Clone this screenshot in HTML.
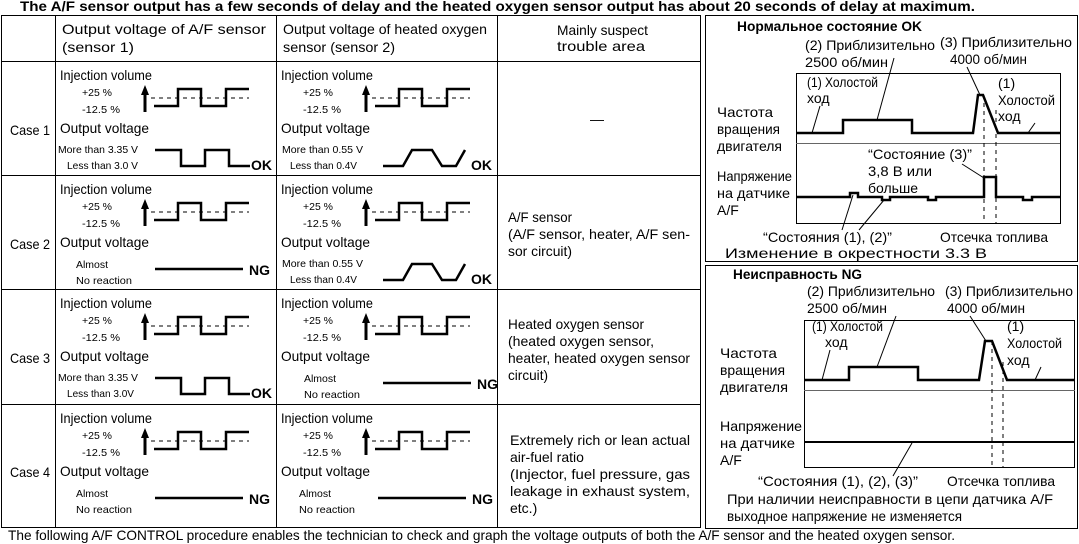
<!DOCTYPE html>
<html><head><meta charset="utf-8"><style>
html,body{margin:0;padding:0;background:#fff;}
svg{display:block;font-family:"Liberation Sans",Arial,sans-serif;}
text{font-size:14px;}
.s{font-size:10.5px;}
.b{font-weight:bold;}
.w{fill:none;stroke:#000;stroke-width:2.5;}
.d{fill:none;stroke:#000;stroke-width:1;stroke-dasharray:4,4;}
.t{fill:none;stroke:#000;stroke-width:1;}
</style></head><body>
<svg width="1079" height="544" viewBox="0 0 1079 544" xmlns="http://www.w3.org/2000/svg">
<defs>
<g id="inj">
<text x="60" y="80" textLength="92" lengthAdjust="spacingAndGlyphs">Injection volume</text>
<text x="82" y="96" class="s" textLength="30" lengthAdjust="spacingAndGlyphs">+25 %</text>
<text x="82" y="113" class="s" textLength="38" lengthAdjust="spacingAndGlyphs">-12.5  %</text>
<line x1="145" y1="92" x2="145" y2="112" stroke="#000" stroke-width="3"/>
<polygon points="141,95 149,95 145,85" fill="#000"/>
<line x1="151" y1="98" x2="249" y2="98" class="d"/>
<polyline points="154,106 178,106 178,89 201,89 201,106 226,106 226,89 249,89" class="w"/>
<text x="60" y="133" textLength="89" lengthAdjust="spacingAndGlyphs">Output voltage</text>
</g>
<g id="ng1">
<text x="76" y="154" class="s" textLength="32" lengthAdjust="spacingAndGlyphs">Almost</text>
<text x="76" y="170" class="s" textLength="56" lengthAdjust="spacingAndGlyphs">No reaction</text>
<line x1="155" y1="155" x2="243" y2="155" stroke="#000" stroke-width="2.5"/>
<text x="249" y="161" class="b">NG</text>
</g>
</defs>
<text x="20" y="11" class="b" textLength="955" lengthAdjust="spacingAndGlyphs">The A/F sensor output has a few seconds of delay and the heated oxygen sensor output has about  20 seconds of delay at maximum.</text>
<rect x="1.5" y="15.5" width="699" height="512" class="t"/>
<line x1="55.5" y1="15" x2="55.5" y2="528" class="t"/>
<line x1="276.5" y1="15" x2="276.5" y2="528" class="t"/>
<line x1="497.5" y1="15" x2="497.5" y2="528" class="t"/>
<line x1="1" y1="61.5" x2="701" y2="61.5" class="t"/>
<line x1="1" y1="175.5" x2="701" y2="175.5" class="t"/>
<line x1="1" y1="289.5" x2="701" y2="289.5" class="t"/>
<line x1="1" y1="404.5" x2="701" y2="404.5" class="t"/>
<text x="62" y="34" textLength="204" lengthAdjust="spacingAndGlyphs">Output voltage of A/F sensor</text>
<text x="62" y="52" textLength="72" lengthAdjust="spacingAndGlyphs">(sensor 1)</text>
<text x="283" y="34" textLength="204" lengthAdjust="spacingAndGlyphs">Output voltage of heated oxygen</text>
<text x="283" y="52" textLength="112" lengthAdjust="spacingAndGlyphs">sensor (sensor 2)</text>
<text x="557" y="35" textLength="91" lengthAdjust="spacingAndGlyphs">Mainly suspect</text>
<text x="557" y="51" textLength="88" lengthAdjust="spacingAndGlyphs">trouble area</text>
<text x="10" y="135" textLength="40" lengthAdjust="spacingAndGlyphs">Case 1</text>
<text x="10" y="249" textLength="40" lengthAdjust="spacingAndGlyphs">Case 2</text>
<text x="10" y="363" textLength="40" lengthAdjust="spacingAndGlyphs">Case 3</text>
<text x="10" y="477" textLength="40" lengthAdjust="spacingAndGlyphs">Case 4</text>
<g><use href="#inj"/><use href="#inj" transform="translate(221,0)"/>
<text x="58" y="153" class="s" textLength="80" lengthAdjust="spacingAndGlyphs">More than 3.35 V</text><text x="67" y="169" class="s" textLength="71" lengthAdjust="spacingAndGlyphs">Less than 3.0 V</text>
<polyline points="155,150 181,150 181,166 205,166 205,150 229,150 229,166 250,166" class="w"/>
<text x="251" y="170" class="b">OK</text>
<text x="282" y="153" class="s" textLength="81" lengthAdjust="spacingAndGlyphs">More than 0.55 V</text><text x="290" y="169" class="s" textLength="67" lengthAdjust="spacingAndGlyphs">Less than 0.4V</text>
<polyline points="383,166 403,166 412,150 432,150 442,166 456,166 465,150" class="w"/>
<text x="471" y="170" class="b">OK</text>
<text x="597" y="124" text-anchor="middle">—</text>
</g>
<g transform="translate(0,114)"><use href="#inj"/><use href="#inj" transform="translate(221,0)"/>
<use href="#ng1"/>
<text x="282" y="153" class="s" textLength="81" lengthAdjust="spacingAndGlyphs">More than 0.55 V</text><text x="290" y="169" class="s" textLength="67" lengthAdjust="spacingAndGlyphs">Less than 0.4V</text>
<polyline points="383,166 403,166 412,150 432,150 442,166 456,166 465,150" class="w"/>
<text x="471" y="170" class="b">OK</text>
</g>
<text x="508" y="222" textLength="64" lengthAdjust="spacingAndGlyphs">A/F sensor</text>
<text x="508" y="239" textLength="182" lengthAdjust="spacingAndGlyphs">(A/F sensor, heater, A/F sen-</text>
<text x="508" y="256" textLength="64" lengthAdjust="spacingAndGlyphs">sor circuit)</text>
<g transform="translate(0,228)"><use href="#inj"/><use href="#inj" transform="translate(221,0)"/>
<text x="58" y="153" class="s" textLength="80" lengthAdjust="spacingAndGlyphs">More than 3.35 V</text><text x="67" y="169" class="s" textLength="67" lengthAdjust="spacingAndGlyphs">Less than 3.0V</text>
<polyline points="155,150 181,150 181,166 205,166 205,150 229,150 229,166 250,166" class="w"/>
<text x="251" y="170" class="b">OK</text>
<use href="#ng1" transform="translate(228,0)"/>
</g>
<text x="508" y="329" textLength="136" lengthAdjust="spacingAndGlyphs">Heated oxygen sensor</text>
<text x="508" y="346" textLength="146" lengthAdjust="spacingAndGlyphs">(heated oxygen sensor,</text>
<text x="508" y="363" textLength="182" lengthAdjust="spacingAndGlyphs">heater, heated oxygen sensor</text>
<text x="508" y="380" textLength="40" lengthAdjust="spacingAndGlyphs">circuit)</text>
<g transform="translate(0,343)"><use href="#inj"/><use href="#inj" transform="translate(221,0)"/>
<use href="#ng1"/><use href="#ng1" transform="translate(223,0)"/>
</g>
<text x="510" y="445" textLength="180" lengthAdjust="spacingAndGlyphs">Extremely rich or lean actual</text>
<text x="510" y="462">air-fuel ratio</text>
<text x="510" y="479" textLength="180" lengthAdjust="spacingAndGlyphs">(Injector, fuel pressure, gas</text>
<text x="510" y="496" textLength="180" lengthAdjust="spacingAndGlyphs">leakage in exhaust system,</text>
<text x="510" y="513">etc.)</text>
<text x="8" y="540" textLength="947" lengthAdjust="spacingAndGlyphs">The following A/F CONTROL procedure enables the technician to check and graph the voltage outputs of  both the A/F sensor and the heated oxygen sensor.</text>

<rect x="705.5" y="15.5" width="372" height="246" class="t"/>
<text x="737" y="31" class="b" textLength="185" lengthAdjust="spacingAndGlyphs">Нормальное состояние   OK</text>
<rect x="796.5" y="73.5" width="264" height="150" class="t"/>
<line x1="796" y1="143.5" x2="1060" y2="143.5" stroke="#666" stroke-width="1"/>
<polyline points="796,133 843,133 843,120 912,120 912,133 973,133 978,95 983,95 998,133 1060,133" class="w"/>
<line x1="984" y1="95" x2="984" y2="223" class="d" stroke-dasharray="5,3"/>
<line x1="996" y1="110" x2="996" y2="223" class="d" stroke-dasharray="5,3"/>
<polyline points="796,197 850,197 850,193 858,193 858,197 882,197 882,200 890,200 890,197 928,197 928,200 936,200 936,197 984,197 984,177 996,177 996,197 1023,197 1023,200 1032,200 1032,197 1060,197" class="w" stroke-width="2"/>
<text x="805" y="50" textLength="130" lengthAdjust="spacingAndGlyphs">(2) Приблизительно</text>
<text x="805" y="67" textLength="83" lengthAdjust="spacingAndGlyphs">2500 об/мин</text>
<text x="940" y="47" textLength="132" lengthAdjust="spacingAndGlyphs">(3) Приблизительно</text>
<text x="950" y="64" textLength="77" lengthAdjust="spacingAndGlyphs">4000 об/мин</text>
<text x="807" y="87" textLength="71" lengthAdjust="spacingAndGlyphs">(1) Холостой</text>
<text x="807" y="103">ход</text>
<text x="998" y="88">(1)</text>
<text x="998" y="105" textLength="57" lengthAdjust="spacingAndGlyphs">Холостой</text>
<text x="998" y="121">ход</text>
<text x="717" y="117" textLength="56" lengthAdjust="spacingAndGlyphs">Частота</text>
<text x="717" y="134" textLength="63" lengthAdjust="spacingAndGlyphs">вращения</text>
<text x="717" y="151" textLength="65" lengthAdjust="spacingAndGlyphs">двигателя</text>
<text x="868" y="159" textLength="104" lengthAdjust="spacingAndGlyphs">“Состояние (3)”</text>
<text x="868" y="176" textLength="64" lengthAdjust="spacingAndGlyphs">3,8 В или</text>
<text x="868" y="193" textLength="50" lengthAdjust="spacingAndGlyphs">больше</text>
<text x="717" y="181" textLength="75" lengthAdjust="spacingAndGlyphs">Напряжение</text>
<text x="717" y="198" textLength="73" lengthAdjust="spacingAndGlyphs">на датчике</text>
<text x="717" y="215">A/F</text>
<text x="763" y="242" textLength="129" lengthAdjust="spacingAndGlyphs">“Состояния (1), (2)”</text>
<text x="940" y="242" textLength="108" lengthAdjust="spacingAndGlyphs">Отсечка топлива</text>
<text x="725" y="258" textLength="262" lengthAdjust="spacingAndGlyphs">Изменение в окрестности 3.3 В</text>
<g class="t">
<line x1="894" y1="58" x2="877" y2="120"/>
<line x1="820" y1="106" x2="812" y2="133"/>
<line x1="967" y1="67" x2="980" y2="95"/>
<line x1="1035" y1="123" x2="1028" y2="133"/>
<line x1="962" y1="164" x2="984" y2="178"/>
<line x1="842" y1="230" x2="853" y2="195"/>
<line x1="859" y1="230" x2="884" y2="200"/>
</g>

<rect x="705.5" y="265.5" width="372" height="263" class="t"/>
<text x="733" y="279" class="b" textLength="129" lengthAdjust="spacingAndGlyphs">Неисправность   NG</text>
<rect x="804.5" y="320.5" width="270" height="147" class="t"/>
<line x1="804" y1="390.5" x2="1075" y2="390.5" stroke="#666" stroke-width="1"/>
<polyline points="804,380 849,380 849,367 918,367 918,380 979,380 985,341 992,341 1007,380 1075,380" class="w"/>
<line x1="992" y1="341" x2="992" y2="467" class="d" stroke-dasharray="5,3"/>
<line x1="1003" y1="362" x2="1003" y2="467" class="d" stroke-dasharray="5,3"/>
<line x1="804" y1="442" x2="1075" y2="442" stroke="#000" stroke-width="2"/>
<text x="807" y="296" textLength="128" lengthAdjust="spacingAndGlyphs">(2) Приблизительно</text>
<text x="807" y="313" textLength="80" lengthAdjust="spacingAndGlyphs">2500 об/мин</text>
<text x="945" y="296" textLength="128" lengthAdjust="spacingAndGlyphs">(3) Приблизительно</text>
<text x="947" y="313" textLength="78" lengthAdjust="spacingAndGlyphs">4000 об/мин</text>
<text x="812" y="331" textLength="71" lengthAdjust="spacingAndGlyphs">(1) Холостой</text>
<text x="825" y="347">ход</text>
<text x="1007" y="331">(1)</text>
<text x="1007" y="348" textLength="55" lengthAdjust="spacingAndGlyphs">Холостой</text>
<text x="1007" y="365">ход</text>
<text x="720" y="358" textLength="57" lengthAdjust="spacingAndGlyphs">Частота</text>
<text x="720" y="375" textLength="65" lengthAdjust="spacingAndGlyphs">вращения</text>
<text x="720" y="392" textLength="68" lengthAdjust="spacingAndGlyphs">двигателя</text>
<text x="720" y="431" textLength="82" lengthAdjust="spacingAndGlyphs">Напряжение</text>
<text x="720" y="448" textLength="75" lengthAdjust="spacingAndGlyphs">на датчике</text>
<text x="720" y="465">A/F</text>
<text x="758" y="486" textLength="160" lengthAdjust="spacingAndGlyphs">“Состояния (1), (2), (3)”</text>
<text x="947" y="486" textLength="108" lengthAdjust="spacingAndGlyphs">Отсечка топлива</text>
<text x="727" y="504" textLength="326" lengthAdjust="spacingAndGlyphs">При наличии неисправности в цепи датчика A/F</text>
<text x="727" y="521" textLength="235" lengthAdjust="spacingAndGlyphs">выходное напряжение не изменяется</text>
<g class="t">
<line x1="896" y1="316" x2="877" y2="367"/>
<line x1="830" y1="350" x2="822" y2="380"/>
<line x1="970" y1="316" x2="986" y2="341"/>
<line x1="1041" y1="367" x2="1035" y2="380"/>
<line x1="893" y1="476" x2="912" y2="443"/>
</g>
</svg>
</body></html>
